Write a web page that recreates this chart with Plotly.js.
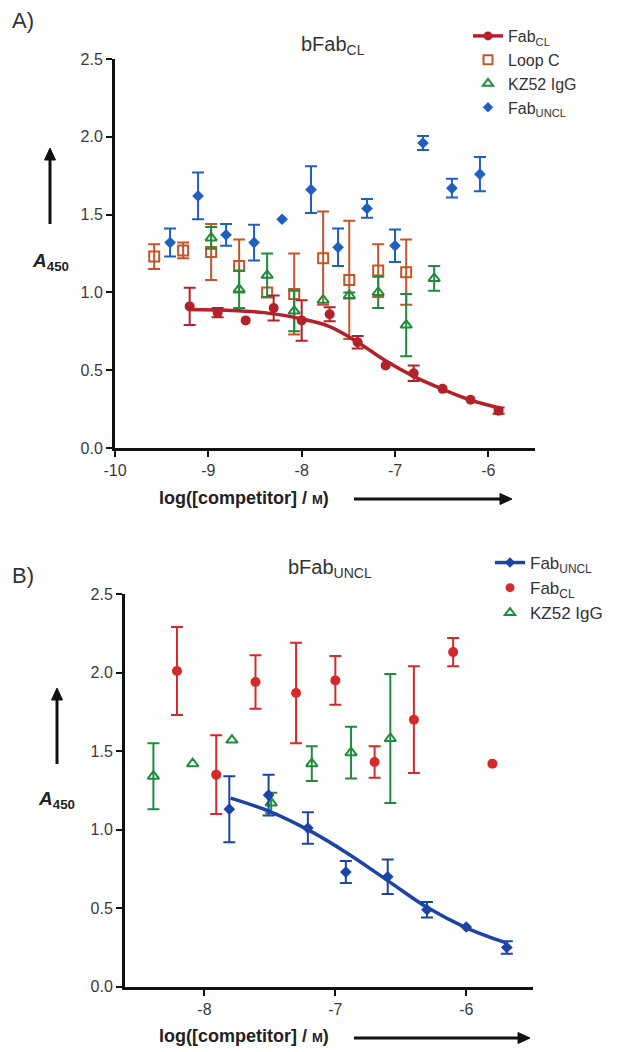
<!DOCTYPE html>
<html>
<head>
<meta charset="utf-8">
<script src="https://cdn.plot.ly/plotly-3.0.1.min.js"></script>
<style>html,body{margin:0;padding:0;background:#fff;}#chart{width:636px;height:1052px;}</style>
</head>
<body>
<div id="chart"></div>
<script>
// NaN = no error bar drawn for that point
// ---------- Panel A (bFab_CL) ----------
const fabCL_A_x   = [-9.20, -8.90, -8.60, -8.30, -8.00, -7.70, -7.40, -7.10, -6.80, -6.49, -6.19, -5.89];
const fabCL_A_y   = [0.91, 0.87, 0.82, 0.90, 0.82, 0.86, 0.68, 0.53, 0.48, 0.38, 0.31, 0.24];
const fabCL_A_err = [0.12, 0.03, NaN, 0.08, 0.13, 0.045, 0.04, NaN, 0.05, NaN, NaN, 0.02];
const fitA_x = [-9.2, -8.8, -8.4, -8.0, -7.7, -7.4, -7.1, -6.8, -6.5, -6.2, -5.9];
const fitA_y = [0.89, 0.885, 0.87, 0.83, 0.78, 0.68, 0.56, 0.46, 0.38, 0.31, 0.26];

const loopC_x   = [-9.58, -9.27, -8.97, -8.67, -8.37, -8.08, -7.77, -7.49, -7.18, -6.88];
const loopC_y   = [1.23, 1.27, 1.26, 1.17, 1.00, 0.99, 1.22, 1.08, 1.14, 1.13];
const loopC_err = [0.08, 0.05, 0.18, 0.17, NaN, 0.26, 0.30, 0.38, 0.17, 0.21];

const kz52_A_x   = [-8.97, -8.67, -8.37, -8.08, -7.77, -7.49, -7.18, -6.88, -6.58];
const kz52_A_y   = [1.35, 1.02, 1.11, 0.88, 0.95, 0.98, 1.00, 0.79, 1.09];
const kz52_A_err = [0.07, 0.12, 0.14, 0.13, NaN, 0.02, 0.10, 0.20, 0.08];

const fabUNCL_A_x   = [-9.41, -9.11, -8.81, -8.51, -8.21, -7.90, -7.61, -7.30, -7.00, -6.70, -6.39, -6.09];
const fabUNCL_A_y   = [1.32, 1.62, 1.37, 1.32, 1.47, 1.66, 1.29, 1.54, 1.30, 1.96, 1.67, 1.76];
const fabUNCL_A_err = [0.09, 0.15, 0.07, 0.115, NaN, 0.15, 0.12, 0.06, 0.105, 0.045, 0.06, 0.11];

// ---------- Panel B (bFab_UNCL) ----------
const fabUNCL_B_x   = [-7.81, -7.51, -7.21, -6.92, -6.60, -6.30, -6.00, -5.69];
const fabUNCL_B_y   = [1.13, 1.22, 1.01, 0.73, 0.70, 0.49, 0.38, 0.25];
const fabUNCL_B_err = [0.21, 0.13, 0.10, 0.07, 0.11, 0.05, NaN, 0.04];
const fitB_x = [-7.8, -7.5, -7.2, -6.9, -6.6, -6.3, -6.0, -5.7];
const fitB_y = [1.20, 1.115, 0.995, 0.845, 0.675, 0.505, 0.375, 0.28];

const fabCL_B_x   = [-8.21, -7.91, -7.61, -7.30, -7.00, -6.70, -6.40, -6.10, -5.80];
const fabCL_B_y   = [2.01, 1.35, 1.94, 1.87, 1.95, 1.43, 1.70, 2.13, 1.42];
const fabCL_B_err = [0.28, 0.25, 0.17, 0.32, 0.155, 0.10, 0.34, 0.09, NaN];

const kz52_B_x   = [-8.39, -8.09, -7.79, -7.49, -7.18, -6.88, -6.58];
const kz52_B_y   = [1.34, 1.42, 1.57, 1.17, 1.42, 1.49, 1.58];
const kz52_B_err = [0.21, NaN, NaN, 0.065, 0.11, 0.165, 0.41];

// ---------- Tick labels ----------
const xTicksA = [-10, -9, -8, -7, -6];
const xTickTextA = ['-10', '-9', '-8', '-7', '-6'];
const xTicksB = [-8, -7, -6];
const xTickTextB = ['-8', '-7', '-6'];
const yTicks = [0, 0.5, 1.0, 1.5, 2.0, 2.5];

const FONT = 'Liberation Sans, Arial, Helvetica, sans-serif';
const C_RED_A = '#b3222a', C_ORANGE = '#c4552a', C_GREEN = '#1e8c3c', C_BLUE_A = '#1f5fc0';
const C_BLUE_B = '#1d43a6', C_RED_B = '#d62a2a';

function errs(arr, color) {
  return {type: 'data', array: arr, visible: true, color: color, thickness: 2, width: 6};
}

const traces = [
  // Panel A
  {x: fabUNCL_A_x, y: fabUNCL_A_y, xaxis: 'x', yaxis: 'y', mode: 'markers', showlegend: false,
   marker: {symbol: 'diamond', size: 9, color: C_BLUE_A}, error_y: errs(fabUNCL_A_err, C_BLUE_A)},
  {x: loopC_x, y: loopC_y, xaxis: 'x', yaxis: 'y', mode: 'markers', showlegend: false,
   marker: {symbol: 'square-open', size: 10, color: C_ORANGE, line: {width: 2}}, error_y: errs(loopC_err, C_ORANGE)},
  {x: kz52_A_x, y: kz52_A_y, xaxis: 'x', yaxis: 'y', mode: 'markers', showlegend: false,
   marker: {symbol: 'triangle-up-open', size: 10, color: C_GREEN, line: {width: 2}}, error_y: errs(kz52_A_err, C_GREEN)},
  {x: fitA_x, y: fitA_y, xaxis: 'x', yaxis: 'y', mode: 'lines', showlegend: false,
   line: {color: C_RED_A, width: 3.5, shape: 'spline'}},
  {x: fabCL_A_x, y: fabCL_A_y, xaxis: 'x', yaxis: 'y', mode: 'markers', showlegend: false,
   marker: {symbol: 'circle', size: 10, color: C_RED_A}, error_y: errs(fabCL_A_err, C_RED_A)},
  // Legend A entries
  {x: [null], y: [null], xaxis: 'x', yaxis: 'y', mode: 'lines+markers', name: 'Fab<sub>CL</sub>', legend: 'legend',
   line: {color: C_RED_A, width: 3.5}, marker: {symbol: 'circle', size: 9, color: C_RED_A}},
  {x: [null], y: [null], xaxis: 'x', yaxis: 'y', mode: 'markers', name: 'Loop C', legend: 'legend',
   marker: {symbol: 'square-open', size: 9, color: C_ORANGE, line: {width: 2}}},
  {x: [null], y: [null], xaxis: 'x', yaxis: 'y', mode: 'markers', name: 'KZ52 IgG', legend: 'legend',
   marker: {symbol: 'triangle-up-open', size: 9, color: C_GREEN, line: {width: 2}}},
  {x: [null], y: [null], xaxis: 'x', yaxis: 'y', mode: 'markers', name: 'Fab<sub>UNCL</sub>', legend: 'legend',
   marker: {symbol: 'diamond', size: 8, color: C_BLUE_A}},

  // Panel B
  {x: kz52_B_x, y: kz52_B_y, xaxis: 'x2', yaxis: 'y2', mode: 'markers', showlegend: false,
   marker: {symbol: 'triangle-up-open', size: 10, color: C_GREEN, line: {width: 2}}, error_y: errs(kz52_B_err, C_GREEN)},
  {x: fabCL_B_x, y: fabCL_B_y, xaxis: 'x2', yaxis: 'y2', mode: 'markers', showlegend: false,
   marker: {symbol: 'circle', size: 10, color: C_RED_B}, error_y: errs(fabCL_B_err, C_RED_B)},
  {x: fitB_x, y: fitB_y, xaxis: 'x2', yaxis: 'y2', mode: 'lines', showlegend: false,
   line: {color: C_BLUE_B, width: 3.5, shape: 'spline', smoothing: 1}},
  {x: fabUNCL_B_x, y: fabUNCL_B_y, xaxis: 'x2', yaxis: 'y2', mode: 'markers', showlegend: false,
   marker: {symbol: 'diamond', size: 9, color: C_BLUE_B}, error_y: errs(fabUNCL_B_err, C_BLUE_B)},
  // Legend B entries
  {x: [null], y: [null], xaxis: 'x2', yaxis: 'y2', mode: 'lines+markers', name: 'Fab<sub>UNCL</sub>', legend: 'legend2',
   line: {color: C_BLUE_B, width: 3.5}, marker: {symbol: 'diamond', size: 8, color: C_BLUE_B}},
  {x: [null], y: [null], xaxis: 'x2', yaxis: 'y2', mode: 'markers', name: 'Fab<sub>CL</sub>', legend: 'legend2',
   marker: {symbol: 'circle', size: 9, color: C_RED_B}},
  {x: [null], y: [null], xaxis: 'x2', yaxis: 'y2', mode: 'markers', name: 'KZ52 IgG', legend: 'legend2',
   marker: {symbol: 'triangle-up-open', size: 9, color: C_GREEN, line: {width: 2}}}
];

const W = 636, H = 1052;
const px = v => v / W;            // pixel -> paper x
const py = v => 1 - v / H;        // pixel -> paper y

const axisCommon = {
  showgrid: false, zeroline: false, showline: true, linecolor: '#111', linewidth: 3,
  ticks: 'outside', ticklen: 6, tickwidth: 2, tickcolor: '#111',
  tickfont: {family: FONT, size: 16, color: '#3a3a3a'}, fixedrange: true
};

// arrows drawn as shapes (line + head), positions in pixels
function arrowShapes(x1, y1, x2, y2) {
  const shapes = [];
  const dx = x2 - x1, dy = y2 - y1, L = Math.hypot(dx, dy), ux = dx / L, uy = dy / L;
  const head = 12, half = 5.5;
  const bx = x2 - ux * head, by = y2 - uy * head;
  shapes.push({type: 'line', xref: 'paper', yref: 'paper', x0: px(x1), y0: py(y1), x1: px(bx), y1: py(by),
    line: {color: '#111', width: 3}});
  const p1x = bx - uy * half, p1y = by + ux * half, p2x = bx + uy * half, p2y = by - ux * half;
  shapes.push({type: 'path', xref: 'paper', yref: 'paper',
    path: `M ${px(x2)} ${py(y2)} L ${px(p1x)} ${py(p1y)} L ${px(p2x)} ${py(p2y)} Z`,
    fillcolor: '#111', line: {color: '#111', width: 1}});
  return shapes;
}

const layout = {
  width: W, height: H,
  margin: {l: 0, r: 0, t: 0, b: 0},
  paper_bgcolor: '#fff', plot_bgcolor: '#fff',
  font: {family: FONT, color: '#222'},
  xaxis: Object.assign({}, axisCommon, {domain: [px(115), px(535)], range: [-10, -5.5], anchor: 'y',
    tickmode: 'array', tickvals: xTicksA, ticktext: xTickTextA}),
  yaxis: Object.assign({}, axisCommon, {domain: [py(448), py(59)], range: [0, 2.5], anchor: 'x',
    tickmode: 'array', tickvals: yTicks, tickformat: '.1f'}),
  xaxis2: Object.assign({}, axisCommon, {domain: [px(125), px(533)], range: [-8.607, -5.49], anchor: 'y2',
    tickmode: 'array', tickvals: xTicksB, ticktext: xTickTextB}),
  yaxis2: Object.assign({}, axisCommon, {domain: [py(986.7), py(594)], range: [0, 2.5], anchor: 'x2',
    tickmode: 'array', tickvals: yTicks, tickformat: '.1f'}),
  legend: {x: px(468), y: py(19), xanchor: 'left', yanchor: 'top', bgcolor: 'rgba(0,0,0,0)',
    font: {family: FONT, size: 16, color: '#333'}, itemwidth: 30, tracegroupgap: 0},
  legend2: {x: px(490), y: py(545), xanchor: 'left', yanchor: 'top', bgcolor: 'rgba(0,0,0,0)',
    font: {family: FONT, size: 17, color: '#333'}, itemwidth: 30, tracegroupgap: 0},
  shapes: [].concat(
    arrowShapes(50, 224, 50, 148),
    arrowShapes(57, 764, 57, 688),
    arrowShapes(354, 499, 512, 499),
    arrowShapes(354, 1038, 530, 1038)
  ),
  annotations: [
    {xref: 'paper', yref: 'paper', x: px(10), y: py(20), xanchor: 'left', yanchor: 'middle', showarrow: false,
     text: 'A)', font: {family: FONT, size: 22, color: '#333'}},
    {xref: 'paper', yref: 'paper', x: px(10), y: py(575), xanchor: 'left', yanchor: 'middle', showarrow: false,
     text: 'B)', font: {family: FONT, size: 22, color: '#333'}},
    {xref: 'paper', yref: 'paper', x: px(333), y: py(46), xanchor: 'center', yanchor: 'middle', showarrow: false,
     text: 'bFab<sub>CL</sub>', font: {family: FONT, size: 20, color: '#333'}},
    {xref: 'paper', yref: 'paper', x: px(330), y: py(568), xanchor: 'center', yanchor: 'middle', showarrow: false,
     text: 'bFab<sub>UNCL</sub>', font: {family: FONT, size: 20, color: '#333'}},
    {xref: 'paper', yref: 'paper', x: px(50), y: py(262), xanchor: 'center', yanchor: 'middle', showarrow: false,
     text: '<b><i>A</i><sub>450</sub></b>', font: {family: FONT, size: 19, color: '#222'}},
    {xref: 'paper', yref: 'paper', x: px(57), y: py(800), xanchor: 'center', yanchor: 'middle', showarrow: false,
     text: '<b><i>A</i><sub>450</sub></b>', font: {family: FONT, size: 19, color: '#222'}},
    {xref: 'paper', yref: 'paper', x: px(244), y: py(498), xanchor: 'center', yanchor: 'middle', showarrow: false,
     text: '<b>log([competitor] / <span style="font-size:13px">M</span>)</b>', font: {family: FONT, size: 18, color: '#222'}},
    {xref: 'paper', yref: 'paper', x: px(244), y: py(1036), xanchor: 'center', yanchor: 'middle', showarrow: false,
     text: '<b>log([competitor] / <span style="font-size:13px">M</span>)</b>', font: {family: FONT, size: 18, color: '#222'}}
  ]
};

Plotly.newPlot('chart', traces, layout, {displayModeBar: false, staticPlot: true});
</script>
</body>
</html>
